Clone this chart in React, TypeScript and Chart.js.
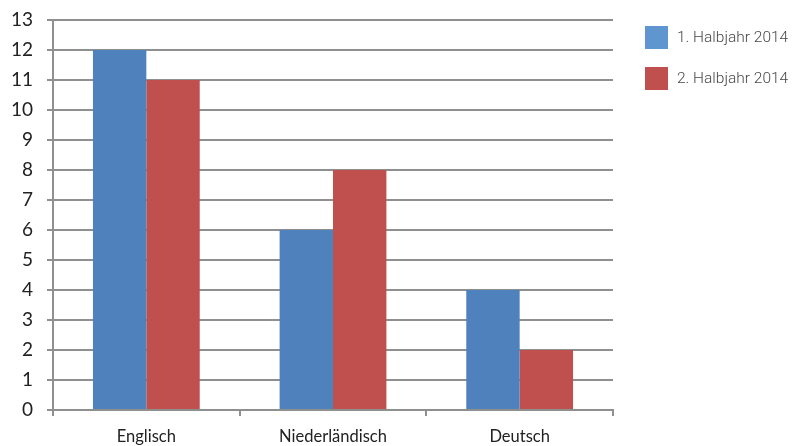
import React, { useEffect, useRef } from "react";
import { Chart, registerables } from "chart.js";

Chart.register(...registerables);

const categories = ["Englisch", "Niederländisch", "Deutsch"];
const firstHalf = [12, 6, 4];
const secondHalf = [11, 8, 2];
const seriesLabels = ["1. Halbjahr 2014", "2. Halbjahr 2014"];
const yTicks = [0, 1, 2, 3, 4, 5, 6, 7, 8, 9, 10, 11, 12, 13];

const BLUE = "#4f81bd";
const RED = "#c0504d";
const LEGEND_BLUE = "#6096cf";
const GRID = "#8e9090";

// Legend drawn on the canvas to the right of the plot
const sideLegend = {
  id: "sideLegend",
  afterDraw(chart: any) {
    const ctx = chart.ctx;
    const colors = [LEGEND_BLUE, RED];
    ctx.save();
    chart.data.datasets.forEach((ds: any, i: number) => {
      const top = 26 + i * 41;
      ctx.fillStyle = colors[i];
      ctx.fillRect(645, top, 23, 23);
      ctx.fillStyle = "#474747";
      ctx.font = "300 15.5px Roboto";
      ctx.textBaseline = "middle";
      ctx.textAlign = "left";
      ctx.fillText(ds.label, 677, top + 12);
    });
    ctx.restore();
  },
};

export default function App() {
  const canvasRef = useRef<HTMLCanvasElement | null>(null);

  useEffect(() => {
    const canvas = canvasRef.current;
    if (!canvas) return;
    const chart = new Chart(canvas, {
      type: "bar",
      data: {
        labels: categories,
        datasets: [
          {
            label: seriesLabels[0],
            data: firstHalf,
            backgroundColor: BLUE,
            categoryPercentage: 0.572,
            barPercentage: 1,
          },
          {
            label: seriesLabels[1],
            data: secondHalf,
            backgroundColor: RED,
            categoryPercentage: 0.572,
            barPercentage: 1,
          },
        ],
      },
      options: {
        animation: false,
        responsive: false,
        maintainAspectRatio: false,
        layout: { padding: { top: 20, right: 180, left: 0, bottom: 0 } },
        plugins: {
          legend: { display: false },
          tooltip: { enabled: false },
        },
        scales: {
          x: {
            grid: {
              offset: true,
              drawOnChartArea: false,
              tickLength: 6,
              color: GRID,
              lineWidth: 2,
            },
            border: { color: GRID, width: 2 },
            ticks: {
              color: "#222222",
              font: { family: "Lato", size: 16.5 },
              padding: 11,
              maxRotation: 0,
            },
            afterFit(scale: any) {
              scale.height = 36;
              scale.paddingLeft = 0;
              scale.paddingRight = 0;
            },
          },
          y: {
            min: 0,
            max: 13,
            afterBuildTicks(scale: any) {
              scale.ticks = yTicks.map((v) => ({ value: v }));
            },
            grid: {
              color: GRID,
              lineWidth: 2,
              tickLength: 6,
            },
            border: { color: GRID, width: 2 },
            ticks: {
              color: "#222222",
              font: { family: "Lato", size: 19 },
              padding: 14,
            },
            afterFit(scale: any) {
              scale.width = 53;
              scale.paddingTop = 0;
              scale.paddingBottom = 0;
            },
          },
        },
      },
      plugins: [sideLegend],
    });
    return () => chart.destroy();
  }, []);

  return (
    <div style={{ position: "fixed", left: 0, top: 0, width: 793, height: 446, background: "#ffffff" }}>
      <canvas ref={canvasRef} width={793} height={446} />
    </div>
  );
}
